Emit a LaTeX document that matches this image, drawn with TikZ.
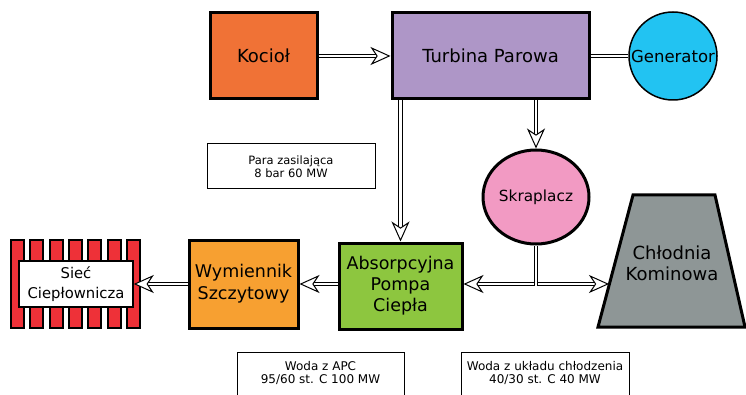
\documentclass[tikz,border=0pt]{standalone}
\usepackage{fontspec}
\setmainfont{DejaVu Sans}
\usetikzlibrary{arrows.meta,shapes.geometric,calc}
\definecolor{cKociol}{HTML}{F07236}
\definecolor{cTurb}{HTML}{AE96C7}
\definecolor{cGen}{HTML}{22C3F2}
\definecolor{cSkr}{HTML}{F29AC3}
\definecolor{cApc}{HTML}{8DC63F}
\definecolor{cWym}{HTML}{F7A031}
\definecolor{cRed}{HTML}{EE3138}
\definecolor{cGray}{HTML}{8E9696}
\tikzset{
  blk/.style={draw=black, line width=3pt, align=center, font=\fontsize{18}{21}\selectfont, inner sep=0pt},
  info/.style={draw=black, line width=1pt, fill=white, align=center, font=\fontsize{11.5}{13.5}\selectfont, inner sep=0pt},
  pipe/.style={draw=black, line width=1pt, double=white, double distance=2.8pt},
  arr/.style={pipe, -{Stealth[fill=white, length=20pt, width=18pt, inset=6pt, line width=1pt]}},
  biarr/.style={pipe, {Stealth[fill=white, length=20pt, width=18pt, inset=6pt, line width=1pt]}-{Stealth[fill=white, length=20pt, width=18pt, inset=6pt, line width=1pt]}},
}
\begin{document}
\begin{tikzpicture}[x=1pt,y=-1pt]
\useasboundingbox (0,0) rectangle (746,395);
\begin{scope}
\clip (0,0) rectangle (746,395);
% nodes
\node[blk, fill=cKociol, minimum width=107pt, minimum height=86pt] (kociol) at (263.5,56) {Kocioł};
\node[blk, fill=cTurb, minimum width=197pt, minimum height=86pt] (turb) at (490.5,56) {Turbina Parowa};
\node[blk, circle, line width=1.5pt, fill=cGen, minimum size=88pt, font=\fontsize{16.5}{20}\selectfont] (gen) at (673,56) {Generator};
\node[blk, ellipse, fill=cSkr, minimum width=106pt, minimum height=94pt, font=\fontsize{15.3}{18}\selectfont] (skr) at (536,197) {Skraplacz};
\node[info, minimum width=168pt, minimum height=45pt] (para) at (291,166.5) {Para zasilająca\\8 bar 60 MW};
\node[blk, fill=cApc, minimum width=123pt, minimum height=86pt, font=\fontsize{17.5}{21}\selectfont] (apc) at (400.5,286) {Absorpcyjna\\Pompa\\Ciepła};
\node[blk, fill=cWym, minimum width=109pt, minimum height=88pt, font=\fontsize{17.5}{22}\selectfont] (wym) at (243.5,284) {Wymiennik\\Szczytowy};
% siec bars
\foreach \i in {0,...,6} {
  \draw[fill=cRed, line width=2pt] ({11+\i*19.3},240) rectangle ({24+\i*19.3},328);
}
\node[info, line width=1.5pt, minimum width=114pt, minimum height=46pt, font=\fontsize{14.8}{19.5}\selectfont] (siec) at (76,284) {Sieć\\Ciepłownicza};
% chlodnia
\draw[fill=cGray, line width=3pt, line join=miter] (633,195) -- (715,195) -- (745,327) -- (598,327) -- cycle;
\node[align=center, font=\fontsize{18}{21}\selectfont] (chl) at (672,263) {Chłodnia\\Kominowa};
\coordinate (chlin) at (609,284);
% bottom info
\node[info, anchor=north, minimum width=167pt, minimum height=60pt] (wapc) at (320.5,352) {};
\node[font=\fontsize{12}{13.5}\selectfont, align=center] (wapct) at (320.5,373) {Woda z APC\\95/60 st. C 100 MW};
\node[info, anchor=north, minimum width=168pt, minimum height=60pt] (wukl) at (545,352) {};
\node[font=\fontsize{12}{13.5}\selectfont, align=center] (wuklt) at (545,373) {Woda z układu chłodzenia\\40/30 st. C 40 MW};
% connectors
\draw[arr] (kociol.east) -- (turb.west);
\draw[pipe] (turb.east) -- (gen.west);
\draw[arr] (turb.south -| apc.north) -- (apc.north);
\draw[arr] (turb.south -| skr.north) -- (skr.north);
\coordinate (junc) at (skr.south |- 0,284);
\draw[biarr] (apc.east |- junc) -- (chlin);
\draw[pipe] (skr.south) -- ($(junc)+(0,1.5)$);
\draw[arr] (apc.west |- junc) -- (wym.east |- junc);
\draw[arr] (wym.west |- junc) -- (siec.east |- junc);
\end{scope}
\end{tikzpicture}
\end{document}
